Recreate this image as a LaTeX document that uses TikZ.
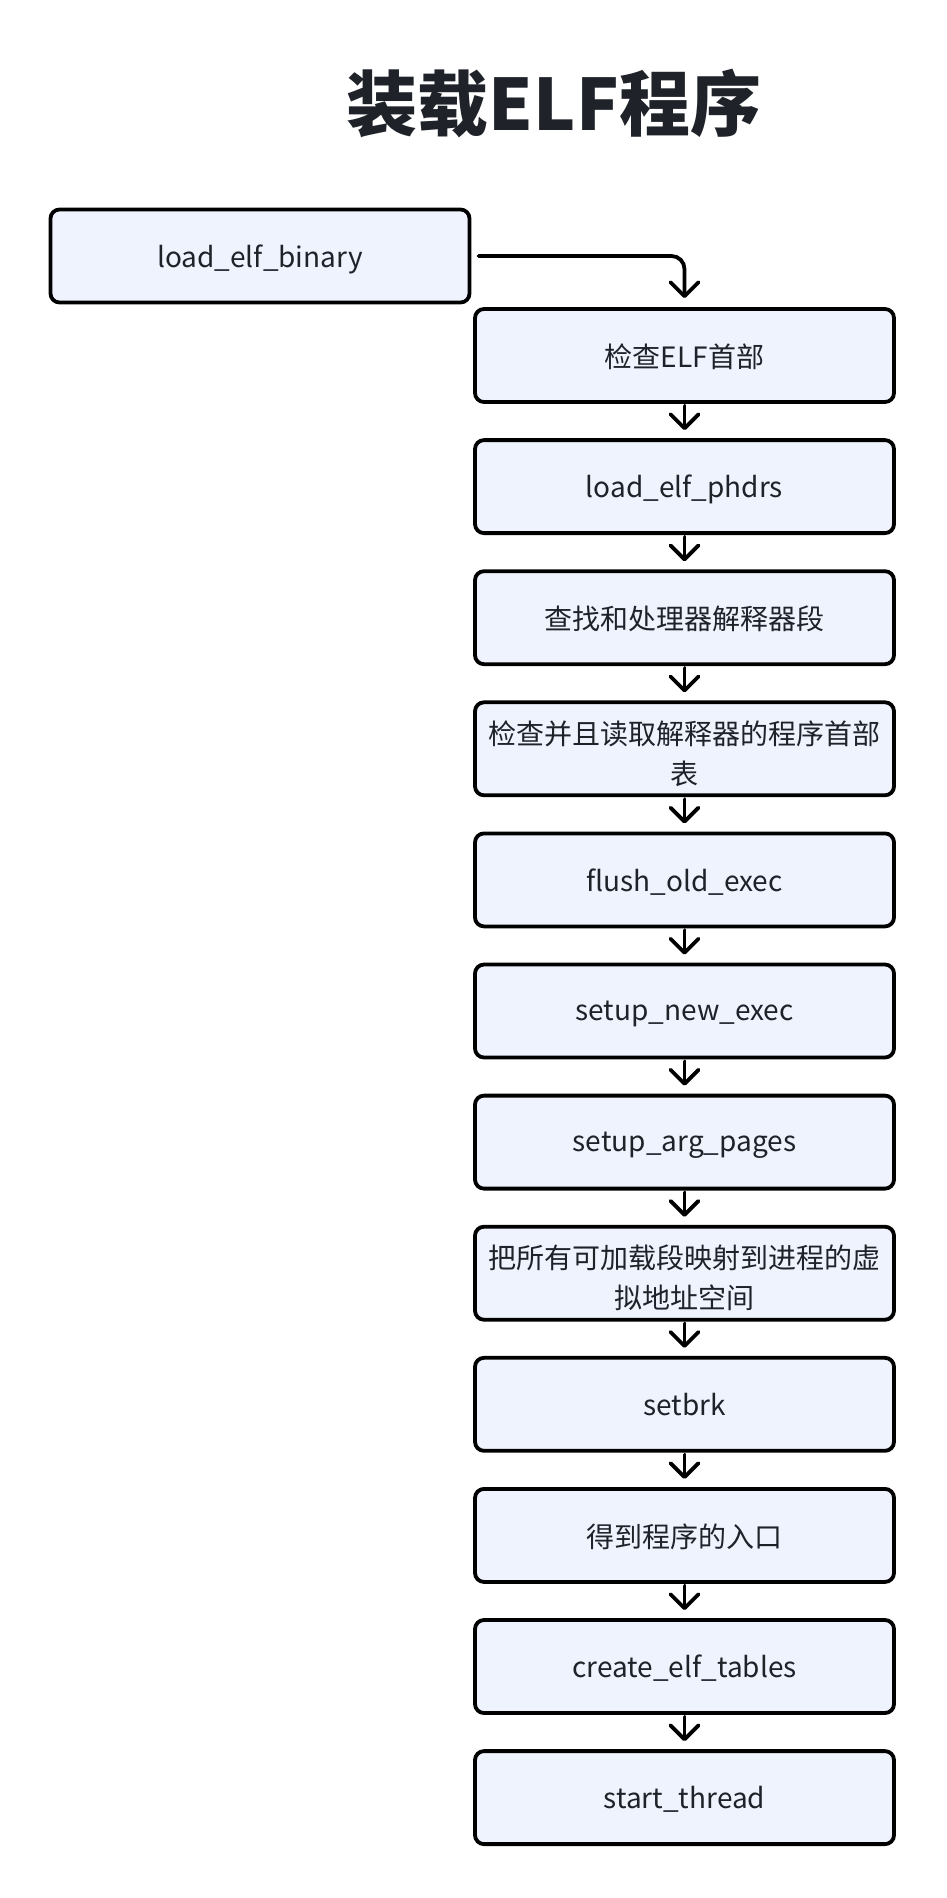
\documentclass[tikz,border=0pt]{standalone}
\usepackage{fontspec}
\setmainfont{Noto Sans CJK SC}
\usetikzlibrary{arrows.meta}
\definecolor{boxfill}{HTML}{EEF3FD}
\definecolor{txt}{HTML}{1F2329}
\tikzset{
  stepbox/.style={draw=black, line width=3.8pt, fill=boxfill, rounded corners=9pt,
    minimum width=419pt, minimum height=93pt, inner sep=0pt, text width=400pt,
    align=center, text=txt, font=\fontsize{28}{40}\selectfont,
    execute at end node={\par\vspace*{-9pt}}},
  flow/.style={line width=3.8pt, draw=black, -{Straight Barb[length=14pt,width=28pt,line join=round,line cap=round]}, line cap=round}
}
\begin{document}
\begin{tikzpicture}[x=1pt,y=1pt]
\useasboundingbox (0,0) rectangle (946,-1898);
\node[text=txt, font=\fontsize{71}{80}\selectfont\bfseries] (title) at (554,-104) {装载ELF程序};
\node[stepbox] (b0) at (260,-256) {load\_elf\_binary};
\node[stepbox] (b1) at (684.5,-355.5) {检查ELF首部};
\node[stepbox] (b2) at (684.5,-486.6) {load\_elf\_phdrs};
\node[stepbox] (b3) at (684.5,-617.7) {查找和处理器解释器段};
\node[stepbox] (b4) at (684.5,-748.8) {检查并且读取解释器的程序首部\\表};
\node[stepbox] (b5) at (684.5,-879.9) {flush\_old\_exec};
\node[stepbox] (b6) at (684.5,-1011.0) {setup\_new\_exec};
\node[stepbox] (b7) at (684.5,-1142.1) {setup\_arg\_pages};
\node[stepbox] (b8) at (684.5,-1273.2) {把所有可加载段映射到进程的虚\\拟地址空间};
\node[stepbox] (b9) at (684.5,-1404.3) {setbrk};
\node[stepbox] (b10) at (684.5,-1535.4) {得到程序的入口};
\node[stepbox] (b11) at (684.5,-1666.5) {create\_elf\_tables};
\node[stepbox] (b12) at (684.5,-1797.6) {start\_thread};
\draw[flow, rounded corners=13pt] ([xshift=7pt]b0.east) -| ([yshift=9pt]b1.north);
\foreach \a/\b in {b1/b2,b2/b3,b3/b4,b4/b5,b5/b6,b6/b7,b7/b8,b8/b9,b9/b10,b10/b11,b11/b12}{
  \draw[flow, shorten >=8pt, shorten <=2pt] (\a.south) -- (\b.north);
}
\end{tikzpicture}
\end{document}
